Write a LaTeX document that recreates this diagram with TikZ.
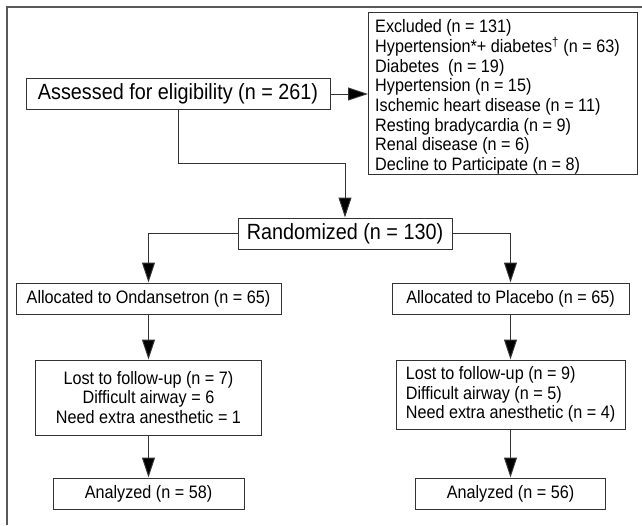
\documentclass[tikz,border=0pt]{standalone}
\usepackage{fontspec}
\setmainfont{Liberation Sans}[FakeStretch=0.9]
\usepackage{tikz}
\usetikzlibrary{arrows.meta}

\begin{document}
\begin{tikzpicture}[x=1pt, y=-1pt,
        box/.style={draw=black!80, line width=1pt, inner sep=0pt, minimum height=31pt},
        bigtext/.style={font=\fontsize{22}{26}\selectfont},
        smalltext/.style={font=\fontsize{18}{19.7}\selectfont},
        arr/.style={draw=black!80, line width=1pt, -{Triangle[length=20pt, width=13pt, fill=black]}}]
        \useasboundingbox (0,0) rectangle (642,525);
        \draw[black!65, line width=2pt] (7,525) -- (7,7) -- (642,7);
        \node[box, bigtext, minimum width=304pt] (assessed) at (178,94) {Assessed for eligibility (n = 261)};
        \node[smalltext, inner sep=0pt, inner xsep=7pt, align=left, anchor=west] (excluded) at (368,97) {Excluded (n = 131)\\Hypertension*+ diabetes\textsuperscript{\textdagger} (n = 63)\\Diabetes~ (n = 19)\\Hypertension (n = 15)\\Ischemic heart disease (n = 11)\\Resting bradycardia (n = 9)\\Renal disease (n = 6)\\Decline to Participate (n = 8)};
        \draw[draw=black!80, line width=1pt] (excluded.west |- 0,12) rectangle (637,174);
        \node[box, bigtext, minimum width=214pt] (randomized) at (345,233.5) {Randomized (n = 130)};
        \node[box, smalltext, minimum width=265pt] (ondansetron) at (148.5,298.5) {Allocated to Ondansetron (n = 65)};
        \node[box, smalltext, minimum width=237pt] (placebo) at (510.5,298.5) {Allocated to Placebo (n = 65)};
        \node[box, smalltext, minimum width=226pt, minimum height=75pt, align=center] (lostond) at (148.5,397.5) {Lost to follow-up (n = 7)\\Difficult airway = 6\\Need extra anesthetic = 1};
        \node[box, smalltext, minimum width=229pt, minimum height=69pt, align=left] (lostpla) at (510.5,394.5) {Lost to follow-up (n = 9)\\Difficult airway (n = 5)\\Need extra anesthetic (n = 4)};
        \node[box, smalltext, minimum width=191pt] (analond) at (148.5,493.5) {Analyzed (n = 58)};
        \node[box, smalltext, minimum width=190pt] (analpla) at (510.5,493.5) {Analyzed (n = 56)};
        \coordinate (bend) at (345,163);
        \draw[arr] (assessed.east) -- (assessed.east -| excluded.west);
        \draw[arr] (assessed.south) |- (bend) -- (randomized.north);
        \draw[arr] (randomized.west) -| (ondansetron.north);
        \draw[arr] (randomized.east) -| (placebo.north);
        \draw[arr] (ondansetron.south) -- (lostond.north);
        \draw[arr] (placebo.south) -- (lostpla.north);
        \draw[arr] (lostond.south) -- (analond.north);
        \draw[arr] (lostpla.south) -- (analpla.north);
    \end{tikzpicture}
\end{document}
